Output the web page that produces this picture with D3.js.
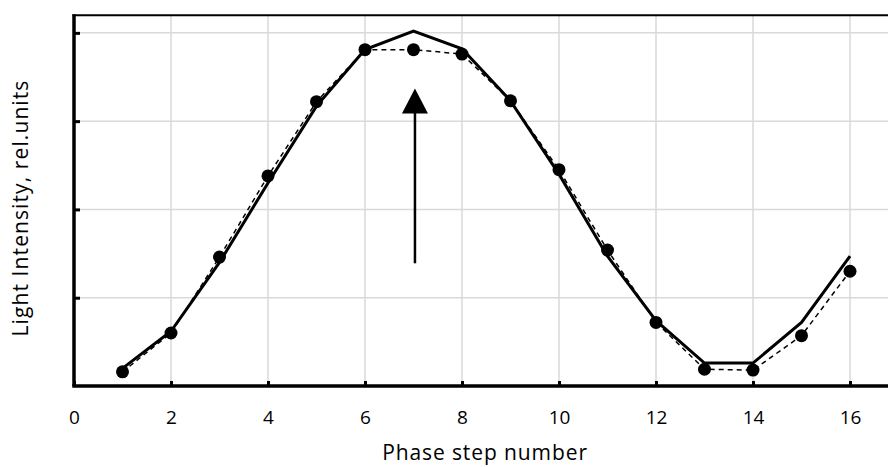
<!DOCTYPE html>
<html>
<head>
<meta charset="utf-8">
<script src="https://cdn.jsdelivr.net/npm/d3@7"></script>
<style>
  body { margin: 0; background: #fff; }
  text { font-family: "Open Sans", "Noto Sans", sans-serif; fill: #000; }
</style>
</head>
<body>
<svg id="chart" width="888" height="467"></svg>
<script>
// phase steps and the two intensity curves (rel. units)
const steps = [1, 2, 3, 4, 5, 6, 7, 8, 9, 10, 11, 12, 13, 14, 15, 16];
const solidSeries = [0.20, 0.62, 1.40, 2.30, 3.17, 3.81, 4.02, 3.82, 3.23, 2.40, 1.47, 0.74, 0.26, 0.26, 0.72, 1.47];
const dashedSeries = [0.16, 0.60, 1.46, 2.38, 3.22, 3.81, 3.81, 3.76, 3.23, 2.45, 1.54, 0.72, 0.19, 0.18, 0.57, 1.30];
const xTicks = [0, 2, 4, 6, 8, 10, 12, 14, 16];
const yTicks = [0, 1, 2, 3, 4];
// arrow annotation: at step 7, from / to intensity
const arrow = {x: 7.03, from: 1.39, to: 3.37};

const svg = d3.select('#chart');

const x = d3.scaleLinear().domain([0, 18]).range([74, 947]);
const y = d3.scaleLinear().domain([0, 4.2]).range([386, 15.2]);

// grid
svg.append('g')
    .selectAll('line')
    .data(xTicks.filter((d) => d > 0))
    .enter()
    .append('line')
    .attr('x1', (d) => x(d)).attr('x2', (d) => x(d))
    .attr('y1', y(4.2)).attr('y2', y(0))
    .attr('stroke', '#d9d9d9').attr('stroke-width', 1.5);

svg.append('g')
    .selectAll('line')
    .data(yTicks.filter((d) => d > 0))
    .enter()
    .append('line')
    .attr('x1', x(0)).attr('x2', 888)
    .attr('y1', (d) => y(d)).attr('y2', (d) => y(d))
    .attr('stroke', '#d9d9d9').attr('stroke-width', 1.5);

// top border
svg.append('line')
    .attr('x1', x(0) - 1.5).attr('x2', 888)
    .attr('y1', y(4.2)).attr('y2', y(4.2))
    .attr('stroke', '#000').attr('stroke-width', 2);

// curves
const line = d3.line()
    .x((d, i) => x(steps[i]))
    .y((d) => y(d));

svg.append('path')
    .datum(dashedSeries)
    .attr('d', line)
    .attr('fill', 'none')
    .attr('stroke', '#000')
    .attr('stroke-width', 1.5)
    .attr('stroke-dasharray', '5,4');

svg.append('path')
    .datum(solidSeries)
    .attr('d', line)
    .attr('fill', 'none')
    .attr('stroke', '#000')
    .attr('stroke-width', 3)
    .attr('stroke-linejoin', 'miter');

svg.append('g')
    .selectAll('circle')
    .data(dashedSeries)
    .enter()
    .append('circle')
    .attr('cx', (d, i) => x(steps[i]))
    .attr('cy', (d) => y(d))
    .attr('r', 6.5)
    .attr('fill', '#000');

// axes
const xAxis = svg.append('g')
    .attr('transform', `translate(0,${y(0)})`)
    .call(d3.axisBottom(x).tickValues(xTicks).tickSize(-5).tickSizeOuter(0));
xAxis.select('.domain').attr('stroke', '#000').attr('stroke-width', 3.5)
    .attr('d', `M${x(0) - 1.75},0H888`);
xAxis.selectAll('.tick line').attr('stroke', '#000').attr('stroke-width', 3);
xAxis.selectAll('.tick text')
    .attr('y', 38).attr('dy', 0)
    .style('font-size', '19px')
    .style('font-family', '"Open Sans", sans-serif');

const yAxis = svg.append('g')
    .attr('transform', `translate(${x(0)},0)`)
    .call(d3.axisLeft(y).tickValues(yTicks.filter((d) => d > 0)).tickSize(-6).tickSizeOuter(0).tickFormat(''));
yAxis.select('.domain').attr('stroke', '#000').attr('stroke-width', 3.5)
    .attr('d', `M0,${y(4.2) - 1}V${y(0)}`);
yAxis.selectAll('.tick line').attr('stroke', '#000').attr('stroke-width', 3);

// arrow
svg.append('line')
    .attr('x1', x(arrow.x)).attr('x2', x(arrow.x))
    .attr('y1', y(arrow.from)).attr('y2', y(arrow.to) + 22)
    .attr('stroke', '#000').attr('stroke-width', 2.5);
svg.append('path')
    .attr('d', `M${x(arrow.x)},${y(arrow.to)}L${x(arrow.x) + 13},${y(arrow.to) + 25}L${x(arrow.x) - 13},${y(arrow.to) + 25}Z`)
    .attr('fill', '#000');

// axis titles
svg.append('text')
    .attr('x', 485).attr('y', 460)
    .attr('text-anchor', 'middle')
    .style('font-size', '21px')
    .style('letter-spacing', '0.9px')
    .text('Phase step number');

svg.append('text')
    .attr('transform', 'translate(28,208) rotate(-90)')
    .attr('text-anchor', 'middle')
    .style('font-size', '21px')
    .style('letter-spacing', '1.1px')
    .text('Light Intensity, rel.units');
</script>
</body>
</html>
